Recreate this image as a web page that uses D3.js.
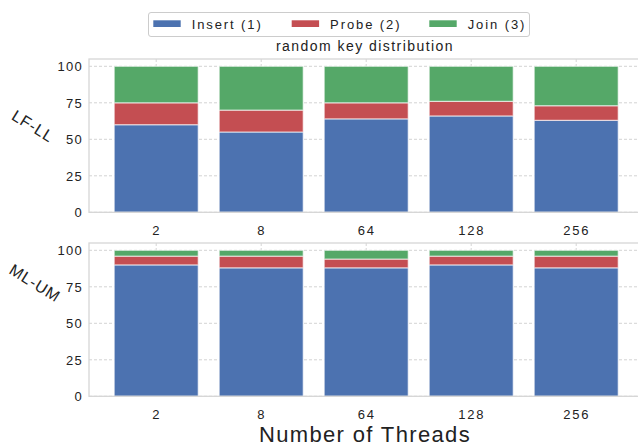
<!DOCTYPE html>
<html><head><meta charset="utf-8">
<script src="https://cdn.jsdelivr.net/npm/d3@7"></script>
<style>body{margin:0;background:#fff}svg{display:block}text{font-family:"Liberation Sans",Arial,sans-serif;fill:#222}</style>
</head><body><div id="chart"></div>
<script>
const categories = ["2","8","64","128","256"];
const seriesNames = ["Insert (1)","Probe (2)","Join (3)"];
const colors = ["#4c72b0","#c44e52","#55a868"];
const panelNames = ["LF-LL","ML-UM"];
const lfllInsert = [60,55,64,66,63];
const lfllProbe  = [15,15,11,10,10];
const lfllJoin   = [25,30,25,24,27];
const mlumInsert = [90,88,88,90,88];
const mlumProbe  = [6,8,6,6,8];
const mlumJoin   = [4,4,6,4,4];
const yTicks = [0,25,50,75,100];
const title = "random key distribution";
const xTitle = "Number of Threads";

const panels = [[lfllInsert,lfllProbe,lfllJoin],[mlumInsert,mlumProbe,mlumJoin]];
const W=638,H=446;
const svg=d3.select("#chart").append("svg").attr("width",W).attr("height",H);
const x=d3.scaleLinear().domain([-0.64,4.64]).range([89,643.4]);
const barW = x(0.4)-x(-0.4);
const panelTops=[59,243], panelH=153.3;
const labelPos=[[33,126],[35,283]];

panels.forEach((series,pi)=>{
  const top=panelTops[pi];
  const y=d3.scaleLinear().domain([0,105]).range([top+panelH,top]);
  const g=svg.append("g");
  // grid
  g.selectAll(".hg").data(yTicks).join("line")
    .attr("x1",89).attr("x2",W).attr("y1",d=>y(d)).attr("y2",d=>y(d))
    .attr("stroke","#cfcfcf").attr("stroke-width",0.9).attr("stroke-dasharray","3,2");
  g.selectAll(".vg").data(categories).join("line")
    .attr("x1",(d,i)=>x(i)).attr("x2",(d,i)=>x(i)).attr("y1",top).attr("y2",top+panelH)
    .attr("stroke","#cfcfcf").attr("stroke-width",0.9).attr("stroke-dasharray","3,2");
  // stacked bars
  const rows=categories.map((c,i)=>({c,i,v:series.map(s=>s[i])}));
  const stack=d3.stack().keys([0,1,2]).value((d,k)=>d.v[k])(rows);
  stack.forEach((layer,k)=>{
    g.selectAll(".b"+k).data(layer).join("rect")
      .attr("x",d=>x(d.data.i)-barW/2).attr("width",barW)
      .attr("y",d=>y(d[1])).attr("height",d=>y(d[0])-y(d[1]))
      .attr("fill",colors[k]).attr("stroke","#ffffff").attr("stroke-opacity",0.6).attr("stroke-width",1.2);
  });
  // frame
  g.append("rect").attr("x",89).attr("y",top).attr("width",643.4-89).attr("height",panelH)
    .attr("fill","none").attr("stroke","#d6d6d6").attr("stroke-width",1.3);
  // y ticks
  const ya=d3.axisLeft(y).tickValues(yTicks).tickSize(0).tickPadding(6);
  const yg=g.append("g").attr("transform","translate(89,0)").call(ya);
  yg.select(".domain").remove();
  yg.selectAll("text").attr("font-size",13).attr("letter-spacing",1.3).attr("fill","#222").attr("font-family","Liberation Sans").attr("dy","0.36em");
  // x ticks
  const xa=d3.axisBottom(x).tickValues([0,1,2,3,4]).tickFormat(i=>categories[i]).tickSize(0).tickPadding(13);
  const xg=g.append("g").attr("transform",`translate(0,${top+panelH})`).call(xa);
  xg.select(".domain").remove();
  xg.selectAll("text").attr("font-size",13).attr("letter-spacing",1.8).attr("fill","#222").attr("font-family","Liberation Sans");
  // panel label
  svg.append("text").attr("transform",`translate(${labelPos[pi][0]},${labelPos[pi][1]}) rotate(32)`)
    .attr("text-anchor","middle").attr("dy","0.35em").attr("font-size",16).attr("letter-spacing",0.8).text(panelNames[pi]);
});

// title
svg.append("text").attr("x",365).attr("y",51).attr("text-anchor","middle").attr("font-size",14).attr("letter-spacing",1.45).text(title);
svg.append("text").attr("x",365).attr("y",442).attr("text-anchor","middle").attr("font-size",22).attr("letter-spacing",1.35).text(xTitle);

// legend
const lg=svg.append("g");
lg.append("rect").attr("x",148.5).attr("y",12.5).attr("width",381).attr("height",24).attr("rx",2.5)
  .attr("fill","#fff").attr("stroke","#cccccc").attr("stroke-width",1);
const legX=[153.3,291.7,429.3];
seriesNames.forEach((n,k)=>{
  lg.append("rect").attr("x",legX[k]).attr("y",20.3).attr("width",27.4).attr("height",6.7).attr("fill",colors[k]);
  lg.append("text").attr("x",legX[k]+38.4).attr("y",29).attr("font-size",13).attr("letter-spacing",1.9).text(n);
});
</script></body></html>
